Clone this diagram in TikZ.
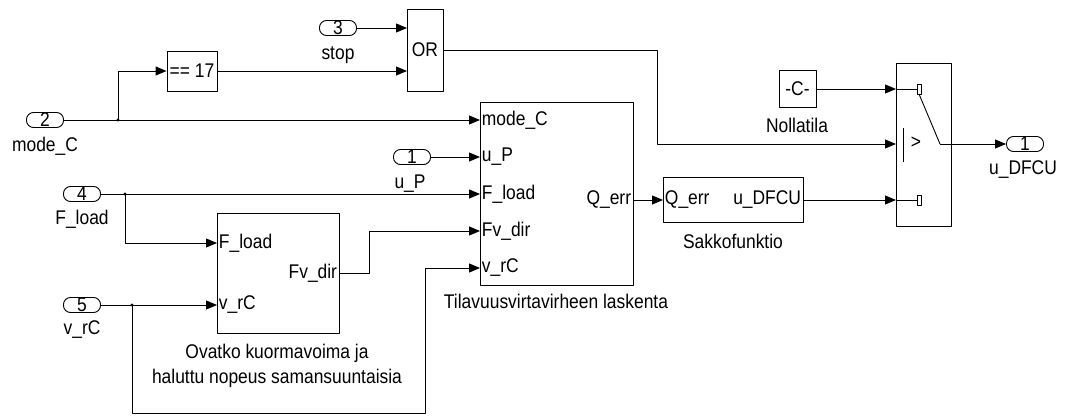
\documentclass[tikz,border=0pt]{standalone}
\usepackage{fontspec}
\setmainfont{Liberation Sans}[FakeStretch=0.88]
\usetikzlibrary{arrows.meta,positioning,calc}

\begin{document}
\begin{tikzpicture}[x=1pt,y=-1pt,line join=round,line width=0.9pt,
    every node/.style={font=\fontsize{19.8}{25}\selectfont},
    sig/.style={-{Triangle[length=11pt,width=9pt]}},
    port/.style={draw,rounded corners=7pt,minimum width=37pt,minimum height=15pt,inner sep=0pt},
    blk/.style={draw,inner sep=0pt},
    pin/.style={inner sep=1.5pt}]
  \useasboundingbox (0,0) rectangle (1065,417);
  % ports
  \node[port] (in3) at (338,28) {3};
  \node[port] (in2) at (45,120) {2};
  \node[port] (in1) at (412,157) {1};
  \node[port] (in4) at (82,194) {4};
  \node[port] (in5) at (82,305) {5};
  \node[port] (out1) at (1025,144) {1};
  \node (stop) at (338,55) {stop};
  \node (lmode) at (45,146) {mode\_C};
  \node (lup) at (410,184) {u\_P};
  \node (lfload) at (82,219) {F\_load};
  \node (lvrc) at (82,330) {v\_rC};
  \node (ludfcu) at (1023,170) {u\_DFCU};
  % blocks
  \node[blk,minimum width=50pt,minimum height=40pt] (eq) at (192,71) {== 17};
  \node[blk,minimum width=36pt,minimum height=82pt] (or) at (425,50) {OR};
  \node[blk,minimum width=153pt,minimum height=183pt] (tila) at (556.5,193.5) {};
  \node[blk,minimum width=122pt,minimum height=120pt] (ovat) at (278,273) {};
  \node[blk,minimum width=140pt,minimum height=45pt] (sakko) at (733,200) {};
  \node[blk,minimum width=37pt,minimum height=37pt] (const) at (797.5,89) {-C-};
  \node[blk,minimum width=55pt,minimum height=163pt] (sw) at (923.5,144.5) {};
  \node (ltila) at (556,301) {Tilavuusvirtavirheen laskenta};
  \node[align=center] (lovat) at (277,366) {Ovatko kuormavoima ja\\haluttu nopeus samansuuntaisia};
  \node (lsakko) at (733,241) {Sakkofunktio};
  \node (lnolla) at (797,125) {Nollatila};
  % port labels
  \node[pin,anchor=west] (t1) at (480,120) {mode\_C};
  \node[pin,anchor=west] (t2) at (480,157) {u\_P};
  \node[pin,anchor=west] (t3) at (480,194) {F\_load};
  \node[pin,anchor=west] (t4) at (480,231) {Fv\_dir};
  \node[pin,anchor=west] (t5) at (480,268) {v\_rC};
  \node[pin,anchor=east] (t6) at (633,200) {Q\_err};
  \node[pin,anchor=west] (o1) at (217,243) {F\_load};
  \node[pin,anchor=west] (o2) at (217,305) {v\_rC};
  \node[pin,anchor=east] (o3) at (339,273) {Fv\_dir};
  \node[pin,anchor=west] (s1) at (663,200) {Q\_err};
  \node[pin,anchor=east] (s2) at (803,200) {u\_DFCU};
  \coordinate (or-in1) at (407,28);
  \coordinate (or-in2) at (407,71);
  \coordinate (sw-in1) at (896,89);
  \coordinate (sw-in2) at (896,144);
  \coordinate (sw-in3) at (896,200);
  \coordinate (sw-piv) at (940,144);
  % switch icon
  \draw (sw-in1) -- (917,89);
  \draw (sw-in3) -- (917,200);
  \draw[fill=white,line width=0.6pt] (917,84) rectangle (921,94);
  \draw[fill=white,line width=0.6pt] (917,195) rectangle (921,205);
  \draw (919,94) -- (sw-piv);
  \draw (903,128) -- (903,162);
  \node (gt) at (916,143) {>};
  % branch points
  \coordinate (j2) at (118,120);
  \coordinate (j4) at (125,194);
  \coordinate (j5) at (132,305);
  \coordinate (b1) at (657,50);
  \coordinate (b2) at (425,413);
  \coordinate (b3) at (369,273);
  \fill (j2) circle (1.6pt) (j4) circle (1.6pt) (j5) circle (1.6pt);
  % signals
  \draw[sig] (in3) -- (or-in1);
  \draw[sig] (j2) |- (eq.west);
  \draw[sig] (eq.east) -- (or-in2);
  \draw[sig] (in2) -- (t1.west);
  \draw[sig] (in1) -- (t2.west);
  \draw[sig] (in4) -- (t3.west);
  \draw[sig] (j4) |- (o1.west);
  \draw[sig] (in5) -- (o2.west);
  \draw[sig] (j5) |- (b2) |- (t5.west);
  \draw[sig] (o3.east) -- (b3) |- (t4.west);
  \draw[sig] (t6.east) -- (s1.west);
  \draw[sig] (or.east) -- (b1) |- (sw-in2);
  \draw[sig] (const) -- (sw-in1);
  \draw[sig] (s2.east) -- (sw-in3);
  \draw[sig] (sw-piv) -- (out1);
\end{tikzpicture}
\end{document}
